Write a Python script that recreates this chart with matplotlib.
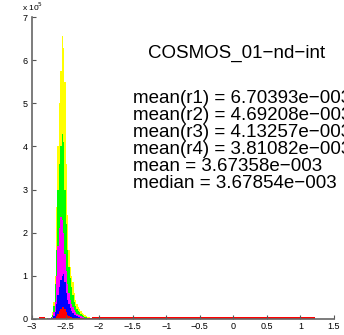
import numpy as np
import matplotlib.pyplot as plt

# histogram bins around the peak (bin width 0.02), counts in units of 1e5
centers = np.round(np.arange(-2.79, -2.10, 0.02), 2)

r_yellow = [0.01, 0.01, 0.02, 0.03, 0.05, 0.15, 0.40, 1.00, 2.60, 4.00,
            5.00, 5.75, 6.55, 6.28, 5.50, 3.60, 2.40, 1.60, 1.20, 1.00,
            0.85, 0.60, 0.45, 0.35, 0.28, 0.22, 0.18, 0.14, 0.11, 0.09,
            0.07, 0.05, 0.04, 0.03, 0.02]
r_green = [0.005, 0.01, 0.015, 0.02, 0.04, 0.10, 0.30, 0.80, 1.60, 3.00,
           3.60, 4.00, 4.30, 4.10, 3.00, 2.20, 1.60, 1.20, 0.95, 0.75,
           0.55, 0.40, 0.30, 0.24, 0.19, 0.15, 0.12, 0.09, 0.07, 0.05,
           0.04, 0.03, 0.02, 0.015, 0.01]
r_magenta = [0.005, 0.005, 0.01, 0.015, 0.02, 0.05, 0.15, 0.40, 1.00, 1.70,
             2.10, 2.36, 2.30, 2.00, 1.50, 1.10, 0.80, 0.60, 0.45, 0.35,
             0.27, 0.20, 0.15, 0.12, 0.10, 0.08, 0.06, 0.05, 0.04, 0.03,
             0.025, 0.02, 0.015, 0.01, 0.01]
r_blue = [0.0, 0.0, 0.005, 0.005, 0.01, 0.02, 0.06, 0.15, 0.35, 0.55,
          0.75, 0.90, 1.00, 1.05, 0.85, 0.60, 0.45, 0.35, 0.25, 0.18,
          0.13, 0.10, 0.08, 0.06, 0.05, 0.04, 0.03, 0.025, 0.02, 0.015,
          0.01, 0.01, 0.005, 0.005, 0.005]
r_red = [0.0, 0.0, 0.0, 0.0, 0.0, 0.005, 0.01, 0.02, 0.06, 0.12,
         0.18, 0.24, 0.27, 0.28, 0.22, 0.15, 0.10, 0.07, 0.05, 0.035,
         0.025, 0.02, 0.015, 0.01, 0.01, 0.01, 0.01, 0.01, 0.01, 0.01,
         0.01, 0.01, 0.01, 0.01, 0.01]

# low tails on either side of the peak region
tail_left = [-2.90, -2.80]
tail_right = [-2.10, 1.22]
tail_count = 0.035

series = [r_yellow, r_green, r_magenta, r_blue, r_red]
colors = ['#ffff00', '#00ff00', '#ff00ff', '#0000ff', '#ff0000']

title = 'COSMOS_01\u2212nd\u2212int'
stats = ['mean(r1) = 6.70393e\u2212003',
         'mean(r2) = 4.69208e\u2212003',
         'mean(r3) = 4.13257e\u2212003',
         'mean(r4) = 3.81082e\u2212003',
         'mean = 3.67358e\u2212003',
         'median = 3.67854e\u2212003']

plt.rcParams['font.family'] = ['Liberation Sans', 'DejaVu Sans']
fig = plt.figure(figsize=(3.44, 3.35), dpi=100)
ax = fig.add_axes([0.093, 0.048, 0.878, 0.901])

for vals, c in zip(series, colors):
    ax.bar(centers, vals, width=0.02, color=c, linewidth=0)
    ax.bar(tail_left[0], tail_count, width=tail_left[1] - tail_left[0],
           align='edge', color=c, linewidth=0)
    ax.bar(tail_right[0], tail_count, width=tail_right[1] - tail_right[0],
           align='edge', color=c, linewidth=0)

ax.set_xlim(-3, 1.5)
ax.set_ylim(0, 7)
ax.set_xticks(np.arange(-3, 1.51, 0.5))
ax.set_xticklabels(['\u22123', '\u22122.5', '\u22122', '\u22121.5', '\u22121',
                    '\u22120.5', '0', '0.5', '1', '1.5'])
ax.set_yticks(range(8))
ax.tick_params(direction='in', length=3, labelsize=6.5, colors='#555555',
               labelcolor='black', width=0.8)
ax.tick_params(axis='x', pad=2)
ax.tick_params(axis='y', pad=3)
for s in ['top', 'right']:
    ax.spines[s].set_visible(False)
for s in ['left', 'bottom']:
    ax.spines[s].set_color('#666666')
    ax.spines[s].set_linewidth(1.2)

fig.text(0.064, 0.968, 'x 10$^5$', fontsize=6)

fig.text(0.43, 0.828, title, fontsize=13.5)
for i, s in enumerate(stats):
    fig.text(0.387, 0.692 - i * 0.0505, s, fontsize=13.5)

fig.savefig('out.png', dpi=100)
